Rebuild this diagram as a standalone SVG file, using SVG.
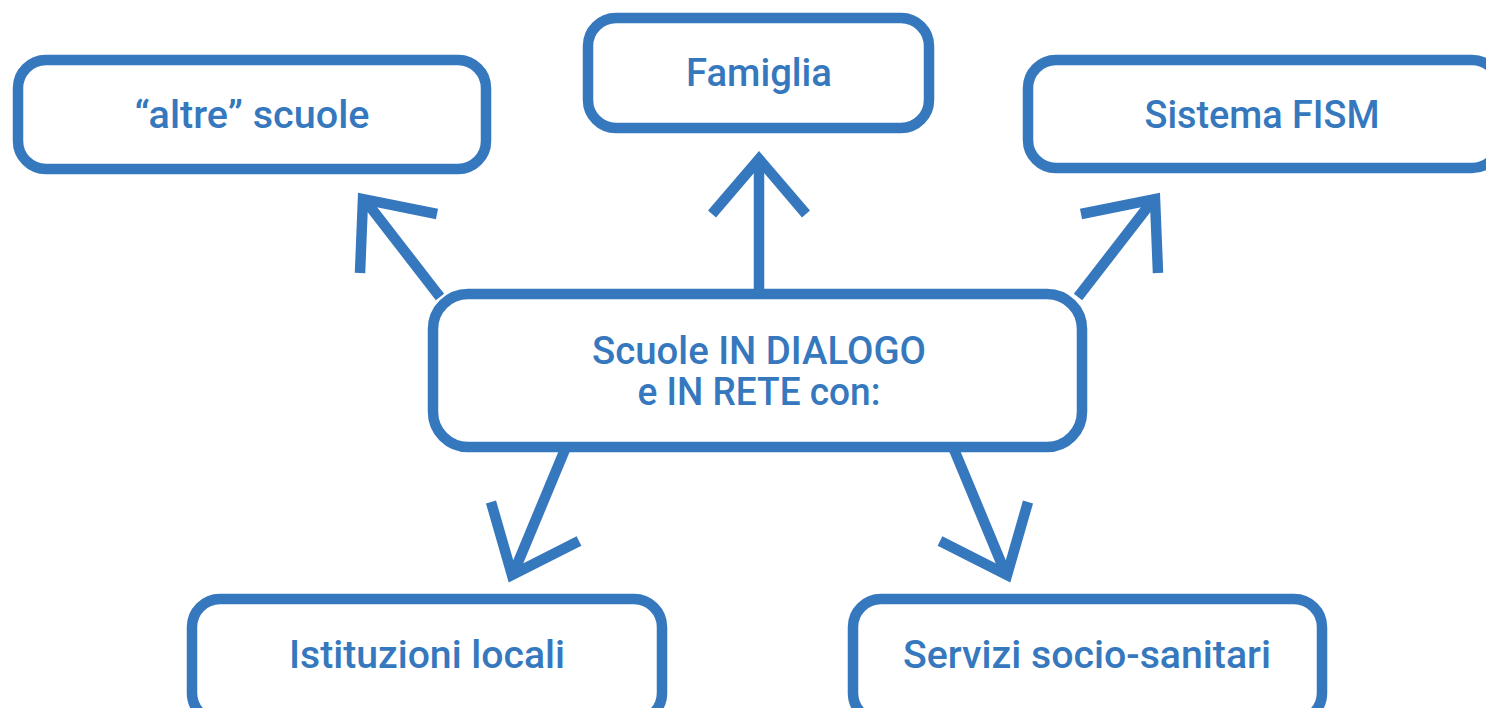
<svg xmlns="http://www.w3.org/2000/svg" width="1486" height="708" viewBox="0 0 1486 708">
<style>
.box{fill:#fff;stroke:#3678bd;stroke-width:10.5}
.lbl{font-family:Roboto,"Liberation Sans",sans-serif;font-weight:500;font-size:38px;fill:#3678bd;text-anchor:middle}
.con{fill:none;stroke:#3678bd;stroke-width:10.5;stroke-linejoin:miter;stroke-miterlimit:10}
</style>
<rect width="1486" height="708" fill="#fff"/>
<g id="connectors">
<path class="con" d="M759 294 V162"/>
<path class="con" d="M712 214 L759 159 L806 214"/>
<path class="con" d="M440 297 L368 204"/>
<path class="con" d="M360 273 L363 199 L437 214"/>
<path class="con" d="M1078 297 L1150 204"/>
<path class="con" d="M1158 273 L1155 199 L1081 214"/>
<path class="con" d="M566 447 L514 572"/>
<path class="con" d="M491 502 L512 575 L579 541"/>
<path class="con" d="M953 447 L1005 572"/>
<path class="con" d="M1028 502 L1007 575 L940 541"/>
</g>
<g id="altre">
<rect class="box" x="18" y="60" width="468" height="109" rx="28"/>
<text class="lbl" x="252" y="128" textLength="235" lengthAdjust="spacingAndGlyphs">“altre” scuole</text>
</g>
<g id="famiglia">
<rect class="box" x="588" y="18" width="341" height="110" rx="28"/>
<text class="lbl" x="759" y="86" textLength="146" lengthAdjust="spacingAndGlyphs">Famiglia</text>
</g>
<g id="fism">
<rect class="box" x="1028" y="60" width="472" height="108" rx="28"/>
<text class="lbl" x="1262" y="128" textLength="235" lengthAdjust="spacingAndGlyphs">Sistema FISM</text>
</g>
<g id="center">
<rect class="box" x="433" y="294" width="649" height="153" rx="35"/>
<text class="lbl" x="759" y="364" textLength="334" lengthAdjust="spacingAndGlyphs">Scuole IN DIALOGO</text>
<text class="lbl" x="759" y="405" textLength="243" lengthAdjust="spacingAndGlyphs">e IN RETE con:</text>
</g>
<g id="istituzioni">
<rect class="box" x="192" y="599" width="470" height="122" rx="28"/>
<text class="lbl" x="427" y="668" textLength="276" lengthAdjust="spacingAndGlyphs">Istituzioni locali</text>
</g>
<g id="servizi">
<rect class="box" x="853" y="599" width="469" height="122" rx="28"/>
<text class="lbl" x="1087" y="668" textLength="368" lengthAdjust="spacingAndGlyphs">Servizi socio-sanitari</text>
</g>
</svg>
